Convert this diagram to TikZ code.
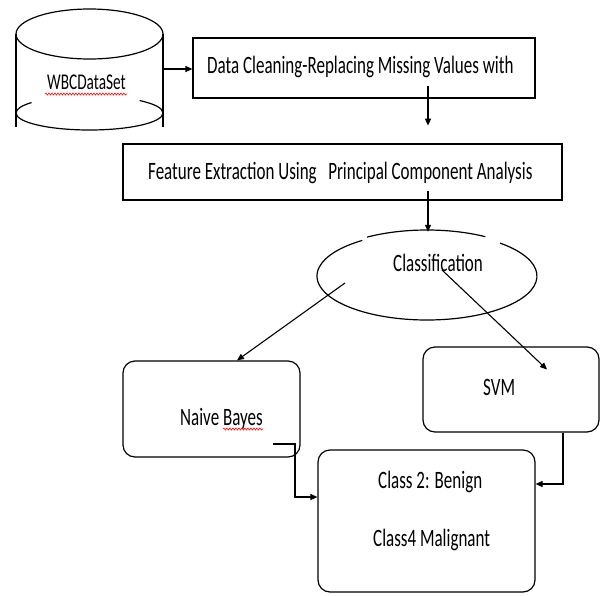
\documentclass[tikz,border=0pt]{standalone}
\usepackage{fontspec}
\setmainfont{Carlito}
\newfontfamily\cfont[FakeStretch=0.68]{Carlito}
\usetikzlibrary{arrows.meta,decorations.pathmorphing,shapes.geometric}
\begin{document}
\begin{tikzpicture}[x=1pt,y=-1pt,
  box/.style={draw,line width=1.2pt,inner sep=0pt},
  rbox/.style={box,rounded corners=12pt},
  hidden/.style={inner sep=0pt},
  lbl/.style={inner sep=0pt,anchor=base west,font=\cfont\fontsize{25}{27}\selectfont},
  conn/.style={line width=1.1pt,-{Triangle[length=7pt,width=6pt]}},
  squig/.style={red,line width=0.6pt,decorate,decoration={snake,amplitude=1pt,segment length=3pt}},
  outl/.style={line width=1.2pt}]
\useasboundingbox (0,0) rectangle (600,595);

% cylinder (data set)
\node[hidden,minimum width=147pt,minimum height=122pt] (cyl) at (89.5,69) {};
\draw[outl] (89.5,34) ellipse [x radius=73.5, y radius=25];
\draw[outl] (16,34) -- (16,127);
\draw[outl] (163,34) -- (163,127);
\draw[outl] (163,113) arc[start angle=0,end angle=180,x radius=73.5,y radius=17];
\draw[outl] (16,113) arc[start angle=180,end angle=218,x radius=73.5,y radius=17];
\draw[outl] (163,113) arc[start angle=360,end angle=313,x radius=73.5,y radius=17];
\node[lbl,font=\cfont\fontsize{22.5}{24}\selectfont] (twbc) at (47,89) {WBCDataSet};
\draw[squig] (45,94) -- (127,94);

% boxes
\node[box,minimum width=342pt,minimum height=60pt] (box1) at (364,68) {};
\node[lbl] (t1) at (207,73) {Data Cleaning-Replacing Missing Values with};
\node[box,minimum width=439pt,minimum height=56pt] (box2) at (342.5,172) {};
\node[lbl] (t2) at (148,179) {Feature Extraction Using\ \ \ Principal Component Analysis};

% classification ellipse
\node[hidden,ellipse,minimum width=220pt,minimum height=88pt] (cls) at (427,276) {};
\draw[outl] (500,243.1) arc[start angle=-48.4,end angle=234,x radius=110,y radius=44];
\draw[outl] (427,274) ++(237:110 and 44) arc[start angle=237,end angle=302,x radius=110,y radius=44];
\node[lbl] (t3) at (393,271) {Classification};

\node[rbox,minimum width=177pt,minimum height=96pt] (nb) at (211.5,409) {};
\node[lbl] (t4) at (180,425) {Naive Bayes};
\draw[squig] (223,429) -- (263,429);

\node[rbox,minimum width=176pt,minimum height=85pt] (svm) at (511,389.5) {};
\node[lbl] (t5) at (483,395) {SVM};

\node[rbox,minimum width=217pt,minimum height=142pt] (res) at (426.5,521) {};
\node[lbl] (t6) at (378,488) {Class 2: Benign};
\node[lbl] (t7) at (373,546) {Class4 Malignant};

% connectors
\coordinate (ax) at (428,0);
\coordinate (nbx) at (237,0);
\draw[conn] (cyl.east) -- (box1.west |- cyl.east);
\draw[conn] (box1.south -| ax) ++(0,-13) -- ++(0,40);
\draw[conn] (box2.south -| ax) ++(0,-10) -- (cls.north -| ax);
\draw[conn] ([shift={(-82,7)}]cls.center) -- (nb.north -| nbx);
\draw[conn] ([shift={(15,-6)}]cls.center) -- ([shift={(36,-20)}]svm.center);
\draw[conn] ([shift={(61.5,35)}]nb.center) -- ++(22,0) |- ([shift={(0,-24)}]res.west);
\draw[conn] ([shift={(52,0)}]svm.south) |- ([shift={(0,-37)}]res.east);
\end{tikzpicture}
\end{document}
